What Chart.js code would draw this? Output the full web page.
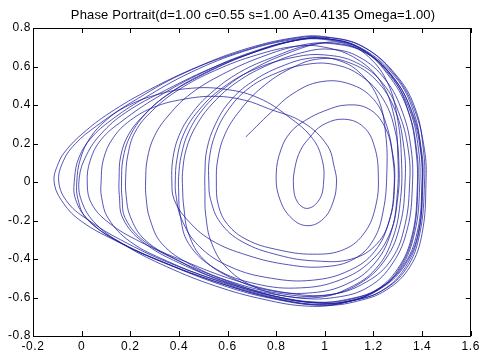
<!DOCTYPE html>
<html>
<head>
<meta charset="utf-8">
<script src="https://cdn.jsdelivr.net/npm/chart.js@4.4.1/dist/chart.umd.min.js"></script>
<style>
html,body{margin:0;padding:0;background:#fff;}
#wrap{width:483px;height:356px;position:relative;}
</style>
</head>
<body>
<div id="wrap"><canvas id="c" width="483" height="356"></canvas></div>
<script>
// ---- chart data ----
const titleText = 'Phase Portrait(d=1.00 c=0.55 s=1.00 A=0.4135 Omega=1.00)';
const xTicks = [-0.2, 0, 0.2, 0.4, 0.6, 0.8, 1, 1.2, 1.4, 1.6];
const xTickLabels = ['-0.2','0','0.2','0.4','0.6','0.8','1','1.2','1.4','1.6'];
const yTicks = [-0.8, -0.6, -0.4, -0.2, 0, 0.2, 0.4, 0.6, 0.8];
const yTickLabels = ['-0.8','-0.6','-0.4','-0.2','0','0.2','0.4','0.6','0.8'];

// trajectory, loop by loop (x, x')
const loop01 = [[0.675,0.234],[0.72,0.29],[0.777,0.36],[0.87,0.46],[0.98,0.52],[1.10,0.51],[1.20,0.43],[1.255,0.29],[1.28,0.12],[1.285,-0.02],[1.265,-0.20],[1.205,-0.36],[1.10,-0.46],[0.95,-0.51],[0.78,-0.50],[0.61,-0.44],[0.48,-0.33],[0.41,-0.19],[0.388,-0.07]];
const loop02 = [[0.385,0],[0.392,0.12],[0.42,0.25],[0.48,0.37],[0.58,0.49],[0.72,0.59],[0.88,0.65],[1.00,0.66],[1.13,0.62],[1.24,0.51],[1.31,0.34],[1.345,0.15],[1.349,0],[1.33,-0.22],[1.275,-0.40],[1.17,-0.52],[1.02,-0.585],[0.84,-0.575],[0.63,-0.51],[0.42,-0.41],[0.24,-0.31],[0.11,-0.21],[0.04,-0.11]];
const loop03 = [[0.023,0],[0.035,0.11],[0.08,0.22],[0.17,0.32],[0.31,0.44],[0.50,0.57],[0.70,0.675],[0.88,0.735],[1.0,0.74],[1.15,0.69],[1.28,0.545],[1.36,0.36],[1.398,0.16],[1.403,0],[1.385,-0.26],[1.33,-0.43],[1.24,-0.545],[1.12,-0.605],[1.0,-0.625],[0.82,-0.60],[0.62,-0.535],[0.36,-0.42],[0.16,-0.30],[0.03,-0.20],[-0.055,-0.11]];
const loop04 = [[-0.094,0],[-0.075,0.11],[-0.025,0.20],[0.06,0.29],[0.20,0.41],[0.42,0.565],[0.66,0.68],[0.87,0.745],[1.0,0.752],[1.16,0.70],[1.30,0.545],[1.375,0.37],[1.405,0.17],[1.41,0],[1.39,-0.27],[1.335,-0.45],[1.235,-0.565],[1.115,-0.615],[0.99,-0.63],[0.80,-0.595],[0.60,-0.515],[0.40,-0.41],[0.26,-0.31],[0.18,-0.19],[0.166,-0.08]];
const loop05 = [[0.164,0],[0.17,0.12],[0.20,0.24],[0.26,0.35],[0.36,0.46],[0.52,0.575],[0.70,0.67],[0.87,0.735],[1.0,0.745],[1.15,0.69],[1.27,0.54],[1.345,0.36],[1.378,0.16],[1.383,0],[1.365,-0.26],[1.31,-0.44],[1.22,-0.56],[1.10,-0.62],[0.98,-0.64],[0.80,-0.61],[0.60,-0.545],[0.34,-0.42],[0.14,-0.305],[0.0,-0.205],[-0.075,-0.11]];
const loop06 = [[-0.113,0],[-0.095,0.10],[-0.063,0.166],[0.005,0.253],[0.113,0.357],[0.276,0.478],[0.48,0.60],[0.684,0.695],[0.887,0.752],[1.0,0.755],[1.158,0.703],[1.294,0.547],[1.369,0.374],[1.41,0.166],[1.416,0],[1.40,-0.267],[1.35,-0.44],[1.254,-0.56],[1.13,-0.62],[1.0,-0.64],[0.82,-0.612],[0.616,-0.544],[0.344,-0.42],[0.14,-0.30],[0.02,-0.19],[-0.015,-0.09]];
const loop07 = [[-0.020,0],[-0.005,0.12],[0.035,0.23],[0.10,0.32],[0.18,0.39],[0.30,0.45],[0.45,0.487],[0.60,0.48],[0.73,0.435],[0.85,0.34],[0.95,0.225],[0.99,0.11],[0.995,0.0],[0.978,-0.09],[0.93,-0.137],[0.888,-0.105],[0.871,-0.02],[0.878,0.08],[0.90,0.165],[0.935,0.227],[0.99,0.295],[1.08,0.326],[1.16,0.285],[1.205,0.18],[1.22,0.03],[1.21,-0.12],[1.165,-0.26],[1.08,-0.35],[0.95,-0.375],[0.80,-0.35],[0.68,-0.30],[0.60,-0.22],[0.562,-0.12]];
const loop08 = [[0.554,0],[0.56,0.12],[0.59,0.25],[0.65,0.37],[0.74,0.49],[0.86,0.59],[0.98,0.64],[1.10,0.62],[1.21,0.53],[1.29,0.37],[1.325,0.18],[1.33,0],[1.31,-0.22],[1.25,-0.40],[1.14,-0.53],[1.00,-0.59],[0.82,-0.58],[0.62,-0.52],[0.45,-0.43],[0.33,-0.32],[0.28,-0.19],[0.265,-0.08]];
const loop09 = [[0.263,0],[0.27,0.12],[0.30,0.24],[0.36,0.35],[0.45,0.46],[0.58,0.56],[0.74,0.65],[0.90,0.71],[1.02,0.72],[1.17,0.67],[1.29,0.53],[1.36,0.35],[1.395,0.15],[1.40,0],[1.38,-0.26],[1.32,-0.44],[1.22,-0.555],[1.09,-0.61],[0.95,-0.625],[0.76,-0.59],[0.55,-0.51],[0.35,-0.41],[0.20,-0.31],[0.11,-0.19],[0.082,-0.08]];
const loop10 = [[0.08,0],[0.09,0.12],[0.13,0.23],[0.20,0.32],[0.30,0.39],[0.42,0.43],[0.55,0.445],[0.67,0.425],[0.77,0.38],[0.91,0.31],[1.01,0.19],[1.04,0.07],[1.048,0],[1.035,-0.10],[0.995,-0.19],[0.93,-0.227],[0.865,-0.19],[0.815,-0.09],[0.80,0.04],[0.82,0.17],[0.86,0.26],[0.92,0.32],[1.0,0.37],[1.09,0.40],[1.18,0.38],[1.245,0.29],[1.28,0.14],[1.287,0],[1.27,-0.18],[1.215,-0.32],[1.11,-0.40],[0.96,-0.41],[0.81,-0.38],[0.66,-0.31],[0.57,-0.21],[0.53,-0.09]];
const loop11 = [[0.523,0],[0.525,0.12],[0.55,0.25],[0.60,0.37],[0.68,0.48],[0.79,0.56],[0.92,0.61],[1.04,0.61],[1.15,0.55],[1.24,0.43],[1.29,0.26],[1.305,0.08],[1.30,-0.08],[1.27,-0.26],[1.19,-0.41],[1.06,-0.51],[0.90,-0.55],[0.72,-0.53],[0.55,-0.45],[0.44,-0.32],[0.405,-0.17],[0.399,-0.05]];
const loop12 = [[0.399,0.03],[0.41,0.14],[0.44,0.26],[0.50,0.38],[0.59,0.49],[0.71,0.59],[0.85,0.67],[0.98,0.72],[1.08,0.72],[1.18,0.65],[1.26,0.51],[1.30,0.32],[1.315,0.12],[1.312,-0.08],[1.28,-0.29],[1.21,-0.45],[1.10,-0.55],[0.97,-0.60],[0.80,-0.585],[0.60,-0.52],[0.40,-0.42],[0.25,-0.31],[0.17,-0.19],[0.155,-0.07]];
const loop13 = [[0.154,0.02],[0.16,0.13],[0.19,0.24],[0.25,0.34],[0.35,0.45],[0.51,0.565],[0.69,0.665],[0.86,0.73],[0.99,0.745],[1.14,0.70],[1.27,0.55],[1.35,0.37],[1.385,0.17],[1.39,-0.02],[1.37,-0.26],[1.31,-0.45],[1.21,-0.565],[1.09,-0.62],[0.96,-0.635],[0.78,-0.60],[0.58,-0.53],[0.35,-0.425],[0.15,-0.31],[0.03,-0.20],[-0.025,-0.09]];
const loop14 = [[-0.029,0.02],[-0.01,0.13],[0.04,0.23],[0.12,0.32],[0.25,0.43],[0.45,0.57],[0.67,0.68],[0.87,0.74],[1.0,0.745],[1.15,0.695],[1.29,0.545],[1.365,0.365],[1.395,0.165],[1.40,-0.02],[1.385,-0.27],[1.33,-0.445],[1.24,-0.56],[1.12,-0.615],[0.99,-0.63],[0.80,-0.595],[0.58,-0.515],[0.40,-0.41],[0.26,-0.30],[0.20,-0.18],[0.183,-0.07]];
const loop15 = [[0.181,0.02],[0.19,0.14],[0.22,0.26],[0.29,0.37],[0.40,0.48],[0.55,0.58],[0.72,0.66],[0.88,0.705],[1.0,0.70],[1.13,0.64],[1.23,0.52],[1.285,0.34],[1.30,0.14],[1.298,-0.06],[1.27,-0.27],[1.20,-0.43],[1.09,-0.53],[0.95,-0.575],[0.78,-0.565],[0.62,-0.50],[0.50,-0.40],[0.44,-0.27],[0.42,-0.13],[0.415,-0.03]];
const loop16 = [[0.415,0.05],[0.43,0.17],[0.47,0.29],[0.54,0.41],[0.64,0.52],[0.77,0.61],[0.90,0.67],[1.02,0.69],[1.14,0.65],[1.25,0.53],[1.32,0.36],[1.355,0.17],[1.36,-0.02],[1.34,-0.24],[1.28,-0.42],[1.18,-0.545],[1.04,-0.60],[0.88,-0.60],[0.72,-0.55],[0.60,-0.45],[0.535,-0.32],[0.51,-0.17],[0.507,-0.05]];
const loop17 = [[0.507,0.05],[0.515,0.17],[0.55,0.30],[0.61,0.42],[0.70,0.52],[0.82,0.60],[0.95,0.645],[1.06,0.63],[1.15,0.56],[1.22,0.43],[1.25,0.25],[1.255,0.05],[1.24,-0.15],[1.20,-0.30],[1.12,-0.40],[1.00,-0.44],[0.85,-0.43],[0.68,-0.38],[0.53,-0.30],[0.43,-0.19],[0.38,-0.09]];
const loop18 = [[0.371,0.0],[0.375,0.12],[0.40,0.24],[0.45,0.35],[0.53,0.46],[0.65,0.57],[0.79,0.65],[0.93,0.71],[1.05,0.72],[1.17,0.67],[1.28,0.54],[1.345,0.36],[1.375,0.16],[1.38,-0.03],[1.36,-0.27],[1.30,-0.45],[1.20,-0.57],[1.07,-0.63],[0.93,-0.645],[0.75,-0.61],[0.55,-0.54],[0.35,-0.44],[0.18,-0.33],[0.06,-0.22],[0.0,-0.10],[-0.01,0.02],[0.02,0.14],[0.08,0.25],[0.18,0.36],[0.35,0.48],[0.55,0.60],[0.75,0.69],[0.92,0.745],[1.02,0.748]];

const loops = [loop01,loop02,loop03,loop04,loop05,loop06,loop07,loop08,loop09,loop10,loop11,loop12,loop13,loop14,loop15,loop16,loop17,loop18];
const trajectory = [];
loops.forEach(l => l.forEach(p => trajectory.push({x:p[0], y:p[1]})));

const FONT = '"Liberation Sans", Arial, Helvetica, sans-serif';
const PLOT = {left:33, right:475, top:28, bottom:336};
const TICK_SPACING = '0.6px';

const boxPlugin = {
  id:'matlabBox',
  beforeUpdate(chart){ chart.ctx.letterSpacing = TICK_SPACING; },
  beforeDraw(chart){ chart.ctx.letterSpacing = TICK_SPACING; },
  afterDraw(chart){
    const ctx = chart.ctx, a = chart.chartArea;
    const xs = chart.scales.x, ys = chart.scales.y;
    ctx.save();
    ctx.strokeStyle = '#000';
    ctx.lineWidth = 1;
    ctx.beginPath();
    ctx.rect(Math.round(a.left)+0.5, Math.round(a.top)+0.5, Math.round(a.right-a.left)-1, Math.round(a.bottom-a.top));
    ctx.stroke();
    const L = 5;
    ctx.beginPath();
    xTicks.forEach(v => {
      const px = Math.round(xs.getPixelForValue(v))+0.5;
      ctx.moveTo(px, a.bottom); ctx.lineTo(px, a.bottom-L);
      ctx.moveTo(px, a.top); ctx.lineTo(px, a.top+L);
    });
    yTicks.forEach(v => {
      const py = Math.round(ys.getPixelForValue(v))+0.5;
      ctx.moveTo(a.left, py); ctx.lineTo(a.left+L, py);
      ctx.moveTo(a.right, py); ctx.lineTo(a.right-L, py);
    });
    ctx.stroke();
    ctx.fillStyle = '#000';
    ctx.font = '13px ' + FONT;
    ctx.letterSpacing = '0.15px';
    ctx.textAlign = 'center';
    ctx.textBaseline = 'middle';
    ctx.fillText(titleText, 253, 15);
    ctx.restore();
  }
};

new Chart(document.getElementById('c'), {
  type:'scatter',
  data:{ datasets:[{
    data: trajectory,
    showLine:true,
    tension:0.4,
    borderColor:'rgba(25,25,155,0.82)',
    borderWidth:0.9,
    pointRadius:0,
    fill:false
  }]},
  options:{
    responsive:false,
    animation:false,
    devicePixelRatio:1,
    layout:{padding:{left:0, right:483-PLOT.right, top:PLOT.top, bottom:0}},
    plugins:{legend:{display:false}, title:{display:false}, tooltip:{enabled:false}},
    scales:{
      x:{
        type:'linear', min:-0.2, max:1.6,
        afterBuildTicks(s){ s.ticks = xTicks.map(v=>({value:v})); },
        afterFit(s){ s.height = 356-PLOT.bottom; },
        grid:{display:false, drawTicks:false},
        border:{display:false},
        ticks:{
          padding:3, color:'#000', font:{family:FONT, size:12},
          maxRotation:0, autoSkip:false,
          callback(v, i){ return xTickLabels[i]; }
        }
      },
      y:{
        type:'linear', min:-0.8, max:0.8,
        afterBuildTicks(s){ s.ticks = yTicks.map(v=>({value:v})); },
        afterFit(s){ s.width = PLOT.left; },
        grid:{display:false, drawTicks:false},
        border:{display:false},
        ticks:{
          padding:2, color:'#000', font:{family:FONT, size:12},
          autoSkip:false,
          callback(v, i){ return yTickLabels[i]; }
        }
      }
    }
  },
  plugins:[boxPlugin]
});
</script>
</body>
</html>
